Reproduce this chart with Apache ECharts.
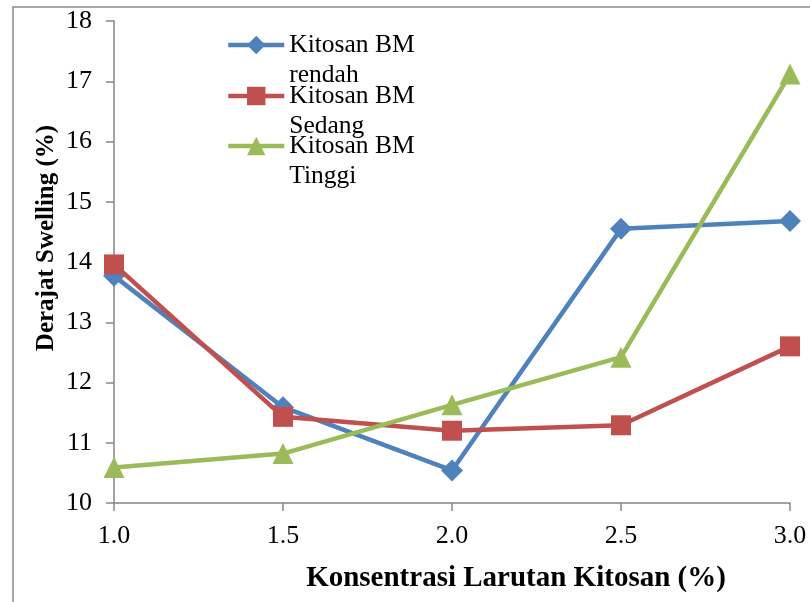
<!DOCTYPE html>
<html>
<head>
<meta charset="utf-8">
<script src="https://cdn.jsdelivr.net/npm/echarts@6/dist/echarts.min.js"></script>
<style>
html,body{margin:0;padding:0;background:#fff;}
#chart{width:810px;height:602px;}
</style>
</head>
<body>
<div id="chart"></div>
<script>
var xValues = [1.0, 1.5, 2.0, 2.5, 3.0];
var seriesNames = ['Kitosan BM rendah', 'Kitosan BM Sedang', 'Kitosan BM Tinggi'];
var rendahValues = [13.77, 11.59, 10.54, 14.55, 14.68];
var sedangValues = [13.96, 11.43, 11.2, 11.29, 12.6];
var tinggiValues = [10.59, 10.82, 11.63, 12.42, 17.12];
var xTitle = 'Konsentrasi Larutan Kitosan (%)';
var yTitle = 'Derajat Swelling (%)';

var FONT = '"Liberation Serif", "Times New Roman", serif';
var AXIS_COLOR = '#868686';

function pairs(vals) { return xValues.map(function (x, i) { return [x, vals[i]]; }); }

var chart = echarts.init(document.getElementById('chart'));

function legendFor(name, top) {
  return {
    data: [name],
    left: 226,
    top: top,
    padding: 0,
    orient: 'vertical',
    itemWidth: 56,
    itemHeight: 23,
    itemGap: 0,
    selectedMode: false,
    lineStyle: { width: 4.5 },
    formatter: function (n) { var p = n.split(' '); return '{a|}\n{a|' + p[0] + ' ' + p[1] + '}\n{a|' + p[2] + '}'; },
    textStyle: {
      fontFamily: FONT, fontSize: 25.5, lineHeight: 30, color: '#000',
      rich: { a: { fontFamily: FONT, fontSize: 25.5, lineHeight: 30, color: '#000' } }
    }
  };
}

var option = {
  animation: false,
  backgroundColor: '#fff',
  grid: { left: 114, right: 20, top: 21, bottom: 99, containLabel: false },
  legend: [
    legendFor(seriesNames[0], 0),
    legendFor(seriesNames[1], 51),
    legendFor(seriesNames[2], 101)
  ],
  xAxis: {
    type: 'value', min: 1, max: 3, interval: 0.5,
    axisLine: { show: true, onZero: false, lineStyle: { color: AXIS_COLOR, width: 1.5 } },
    axisTick: { show: true, inside: false, length: 8, lineStyle: { color: AXIS_COLOR, width: 1.5 } },
    splitLine: { show: false },
    axisLabel: { margin: 20, fontFamily: FONT, fontSize: 26, color: '#000', formatter: function (v) { return v.toFixed(1); } }
  },
  yAxis: {
    type: 'value', min: 10, max: 18, interval: 1,
    axisLine: { show: true, onZero: false, lineStyle: { color: AXIS_COLOR, width: 1.5 } },
    axisTick: { show: true, inside: false, length: 8, lineStyle: { color: AXIS_COLOR, width: 1.5 } },
    splitLine: { show: false },
    axisLabel: { margin: 22, fontFamily: FONT, fontSize: 26, color: '#000' }
  },
  series: [
    {
      name: seriesNames[0], type: 'line', data: pairs(rendahValues),
      symbol: 'diamond', symbolSize: 22, z: 3,
      lineStyle: { color: '#4F81BD', width: 4.5 },
      itemStyle: { color: '#4F81BD' }
    },
    {
      name: seriesNames[1], type: 'line', data: pairs(sedangValues),
      symbol: 'rect', symbolSize: 20, z: 4,
      lineStyle: { color: '#C0504D', width: 4.5 },
      itemStyle: { color: '#C0504D' }
    },
    {
      name: seriesNames[2], type: 'line', data: pairs(tinggiValues),
      symbol: 'triangle', symbolSize: [21, 21], z: 5,
      lineStyle: { color: '#9BBB59', width: 4.5 },
      itemStyle: { color: '#9BBB59' }
    }
  ],
  graphic: [
    {
      type: 'rect', z: -1, silent: true,
      shape: { x: 13, y: 7, width: 820, height: 620 },
      style: { fill: 'none', stroke: '#8a8a8a', lineWidth: 1.5 }
    },
    {
      type: 'text', x: 516, y: 579,
      style: { text: xTitle, font: 'bold 29px ' + FONT, fill: '#000', align: 'center', verticalAlign: 'middle' }
    },
    {
      type: 'text', x: 47, y: 238, rotation: Math.PI / 2,
      style: { text: yTitle, font: 'bold 25px ' + FONT, fill: '#000', align: 'center', verticalAlign: 'middle' }
    }
  ]
};
chart.setOption(option);
</script>
</body>
</html>
